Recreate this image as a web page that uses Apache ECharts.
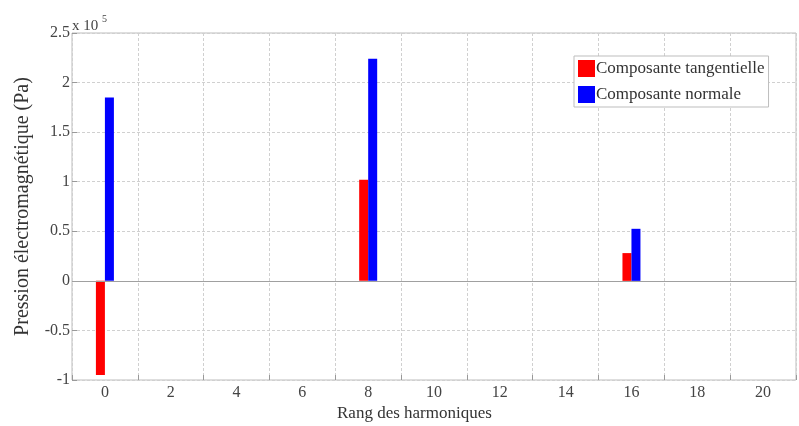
<!DOCTYPE html>
<html><head><meta charset="utf-8">
<script src="https://cdn.jsdelivr.net/npm/echarts@6/dist/echarts.min.js"></script>
<style>html,body{margin:0;padding:0;background:#fff}#c{width:799px;height:426px}</style>
</head><body><div id="c"></div>
<script>
var ranks = [0, 8, 16];
var tangentielle = [-0.95, 1.02, 0.28];
var normale = [1.85, 2.24, 0.525];
var seriesNames = ['Composante tangentielle', 'Composante normale'];
var yTicks = [-1, -0.5, 0, 0.5, 1, 1.5, 2, 2.5];
var xLabels = [0, 2, 4, 6, 8, 10, 12, 14, 16, 18, 20];

var font = 'Liberation Serif';
var chart = echarts.init(document.getElementById('c'));
function pairs(v){ return ranks.map(function(r,i){ return [r, v[i]]; }); }
chart.setOption({
  animation: false,
  textStyle: {fontFamily: font},
  grid: {left: 72, right: 2, top: 33, bottom: 46, show: true, borderColor: '#bdbdbd', borderWidth: 1},
  legend: {
    orient: 'vertical', left: 574, top: 56, itemWidth: 17, itemHeight: 17, itemGap: 9,
    padding: [4, 4, 4, 4], borderColor: '#bdbdbd', borderWidth: 1, backgroundColor: '#fff',
    icon: 'rect',
    textStyle: {fontFamily: font, fontSize: 17, color: '#333', padding: [0,0,0,-4]},
    data: seriesNames
  },
  xAxis: [{
    type: 'value', min: -1, max: 21, interval: 2,
    axisLine: {show: false, onZero: false},
    axisTick: {show: true, inside: true, length: 5, lineStyle: {color: '#999'}},
    axisLabel: {show: false},
    splitLine: {show: true, lineStyle: {color: '#d0d0d0', type: [3, 2]}}
  }, {
    type: 'value', min: -1, max: 21, interval: 1, position: 'bottom',
    axisLine: {show: false, onZero: false}, axisTick: {show: false}, splitLine: {show: false},
    axisLabel: {show: true, margin: 5, fontFamily: font, fontSize: 16, color: '#444',
      formatter: function(v){ return xLabels.indexOf(v) >= 0 ? String(v) : ''; }}
  }],
  yAxis: {
    type: 'value', min: -1, max: 2.5, interval: 0.5,
    axisLine: {show: false, onZero: false},
    axisTick: {show: true, inside: true, length: 5, lineStyle: {color: '#999'}},
    axisLabel: {margin: 2, fontFamily: font, fontSize: 16, color: '#444',
      formatter: function(v){ return yTicks.indexOf(v) >= 0 ? String(v) : ''; }},
    splitLine: {show: true, lineStyle: {color: '#d0d0d0', type: [3, 2]}},
    name: 'Pression électromagnétique (Pa)', nameLocation: 'middle', nameGap: 39,
    nameTextStyle: {fontFamily: font, fontSize: 20, color: '#333'}
  },
  graphic: [
    {type: 'text', left: 72, top: 19, style: {text: 'x 10', font: '15px "Liberation Serif"', fill: '#444'}},
    {type: 'text', left: 102, top: 14, style: {text: '5', font: '10px "Liberation Serif"', fill: '#444'}},
    {type: 'text', left: 337, top: 405, style: {text: 'Rang des harmoniques', font: '17px "Liberation Serif"', fill: '#333'}}
  ],
  series: [{
    name: seriesNames[0], type: 'bar', data: pairs(tangentielle), barWidth: 9, barGap: '0%',
    itemStyle: {color: '#ff0000'},
    markLine: {silent: true, symbol: 'none', label: {show: false},
      lineStyle: {color: '#a0a0a0', type: 'solid', width: 1}, data: [{yAxis: 0}]}
  }, {
    name: seriesNames[1], type: 'bar', data: pairs(normale), barWidth: 9, barGap: '0%',
    itemStyle: {color: '#0000ff'}
  }]
});
</script></body></html>
